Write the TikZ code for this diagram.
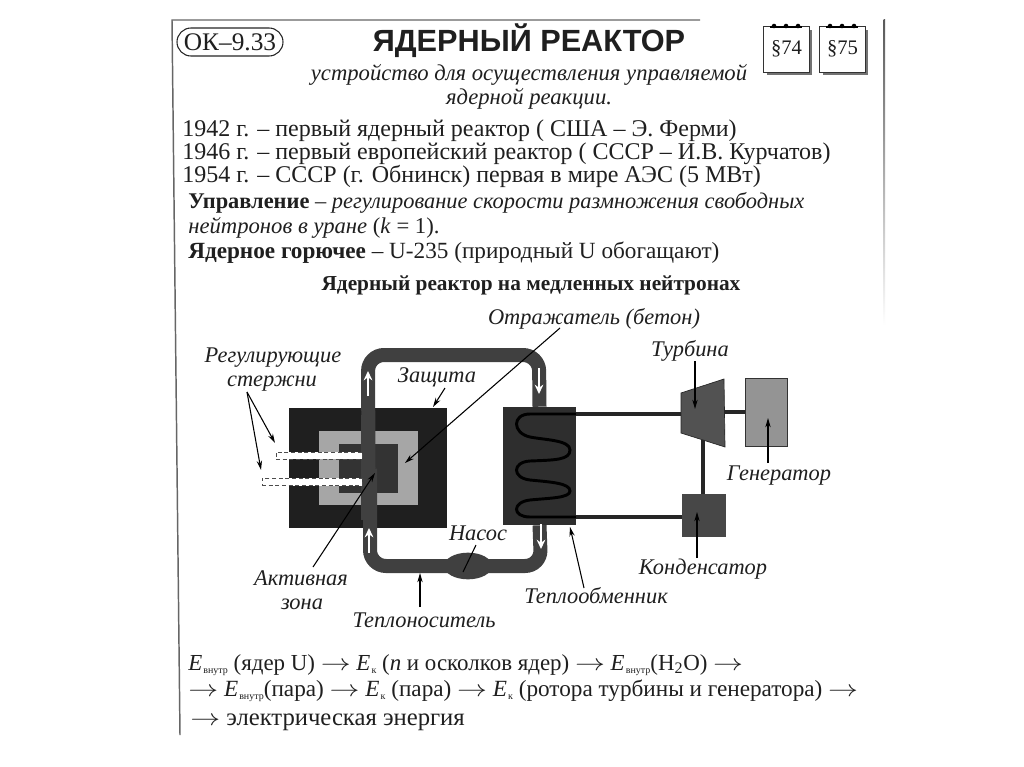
\documentclass[tikz,border=0pt]{standalone}
\usepackage{fontspec}
\setmainfont{Liberation Serif}
\newfontfamily\headfont{Liberation Sans}
\usetikzlibrary{arrows.meta,shapes.geometric}
\newcommand{\sz}[1]{\fontsize{#1}{#1}\selectfont}
\newcommand{\Evn}{\textit{E}\kern0.8pt\raisebox{-0.35ex}{\sz{7.5}внутр}}
\newcommand{\Ek}{\textit{E}\kern0.8pt\raisebox{-0.35ex}{\sz{7.5}к}}
\newcommand{\ar}{\scalebox{1.3}[1]{$\rightarrow$}}
\definecolor{ink}{gray}{0.12}
\tikzset{
  txt/.style={anchor=base west,inner sep=0pt,text=ink,font=\sz{18}},
  ctr/.style={anchor=base,inner sep=0pt,text=ink},
  lab/.style={ctr,font=\sz{16.8}\itshape},
  block/.style={rectangle,inner sep=0pt,draw=none},
  pipe/.style={line width=10.5pt,draw=black!75,rounded corners=12pt},
  lead/.style={draw=black,line width=0.8pt},
  leadarrow/.style={lead,-{Stealth[length=7pt,width=4pt]}},
  flow/.style={draw=white,line width=1.6pt,-{Stealth[length=7pt,width=6.5pt]}},
  link/.style={draw=black!85,line width=3.2pt},
  rod/.style={rectangle,inner sep=0pt,fill=white,draw=black!70,densely dashed,line width=0.7pt},
  leaf/.style={rectangle,inner sep=0pt,minimum width=34pt,minimum height=34pt,draw=black!80,line width=0.7pt,fill=white},
  ring/.style={circle,fill=black,inner sep=0pt,minimum size=3.4pt}
}
\begin{document}
\begin{tikzpicture}[x=0.75pt,y=-0.75pt]
\useasboundingbox (0,0) rectangle (1024,767);
\fill[white] (0,0) rectangle (1024,767);
% sheet frame
\draw[black!60,line width=1.1pt] (700,20) -- (172,20) -- (180,735);
\shade[top color=black!65,bottom color=white] (883.5,20) rectangle (885,325);
% header
\node[rectangle,rounded corners=10.5pt,draw=black!85,line width=0.8pt,minimum width=79.5pt,minimum height=21pt,inner sep=0pt,text=ink,font=\sz{19}] (badge) at (230,42) {ОК–9.33};
\node[ctr,font=\sz{23}\headfont\bfseries] (title) at (529,52) {ЯДЕРНЫЙ РЕАКТОР};
\node[ctr,font=\sz{17}\itshape] (sub1) at (529,80) {устройство для осуществления управляемой};
\node[ctr,font=\sz{17}\itshape] (sub2) at (529,104) {ядерной реакции.};
\foreach \nx/\tx in {764/74,820/75}{
  \fill[black!55] (\nx+3,30) rectangle (\nx+48,75);
  \fill[white] (\nx+2,29) rectangle (\nx+46,73);
  \node[leaf] (page\tx) at (\nx+22.5,49.5) {};
  \node[ctr,font=\sz{15.5}] (sec\tx) at (\nx+22.5,55) {§\tx};
  \draw[black,line width=0.9pt] (\nx+6,27) -- (\nx+38,27);
  \node[ring] at (\nx+10,26) {};
  \node[ring] at (\nx+22,26) {};
  \node[ring] at (\nx+34,26) {};
}
% history
\node[txt] (l1) at (182,137) {1942 г. – первый ядерный реактор ( США – Э. Ферми)};
\node[txt] (l2) at (182,159) {1946 г. – первый европейский реактор ( СССР – И.В. Курчатов)};
\node[txt] (l3) at (182,182) {1954 г. – СССР (г. Обнинск) первая в мире АЭС (5 МВт)};
\node[txt,font=\sz{16.8}] (l4) at (188,208) {\textbf{Управление} – \textit{регулирование скорости размножения свободных}};
\node[txt,font=\sz{17}] (l5) at (188,233) {\textit{нейтронов в уране} (\textit{k} = 1).};
\node[txt,font=\sz{17.4}] (l6) at (188,258) {\textbf{Ядерное горючее} – U-235 (природный U обогащают)};
\node[ctr,font=\sz{16}\bfseries] (l7) at (531,290) {Ядерный реактор на медленных нейтронах};
% reactor
\node[block,fill=black!88,minimum width=118.5pt,minimum height=90pt] (shield) at (368,468) {};
\node[block,fill=black!35,minimum width=74.5pt,minimum height=55.5pt] (refl) at (368.5,468) {};
\node[block,fill=black!80,minimum width=44pt,minimum height=37pt] (core) at (368.5,468.5) {};
% heat exchanger and primary loop
\node[block,fill=black!82,minimum width=55pt,minimum height=88.5pt] (hx) at (539.5,466) {};
\draw[pipe] (core.center) -- (368,355) -- (539,355) -- (hx.north);
\draw[pipe] (core.center) ++(1.5,0) -- (370,566) -- (541,566) -- (hx.south);
\draw[pipe,rounded corners=0pt] (368,415) -- (368,520);
\node[ellipse,fill=black!75,inner sep=0pt,minimum width=36pt,minimum height=20pt] (pump) at (468,566) {};
\node[block,fill=black!82,minimum width=55pt,minimum height=88.5pt] at (539.5,466) {};
% coil
\draw[black,line width=2.2pt,rounded corners=0pt] (576,414) -- (530,414)
  .. controls (512,414) and (512,433) .. (530,437)
  .. controls (545,440) and (570,440) .. (570,450)
  .. controls (570,460) and (555,460) .. (530,461)
  .. controls (512,462) and (512,478) .. (530,480)
  .. controls (550,482) and (570,483) .. (570,491)
  .. controls (570,498) and (550,498) .. (530,500)
  .. controls (512,502) and (512,517) .. (530,517) -- (576,517);
% flow arrows
\coordinate (fa1) at (368,396); \coordinate (fa2) at (368,371);
\coordinate (fb1) at (369,553); \coordinate (fb2) at (369,528);
\coordinate (fc1) at (539,368); \coordinate (fc2) at (539,394);
\coordinate (fd1) at (541,524); \coordinate (fd2) at (541,549);
\draw[flow] (fa1) -- (fa2);
\draw[flow] (fb1) -- (fb2);
\draw[flow] (fc1) -- (fc2);
\draw[flow] (fd1) -- (fd2);
% rods
\node[rod,minimum width=64.5pt,minimum height=5.2pt] (rod1) at (319,455.5) {};
\node[rod,minimum width=75pt,minimum height=5.6pt] (rod2) at (312,482) {};
% secondary circuit
\coordinate (t1) at (681,393); \coordinate (t2) at (724,379);
\coordinate (t3) at (725,447); \coordinate (t4) at (681,433);
\node[block,fill=black!42,draw=black!80,line width=0.7pt,minimum width=32pt,minimum height=51.5pt] (gen) at (766.5,412.5) {};
\node[block,fill=black!72,minimum width=33pt,minimum height=32pt] (cond) at (704,515.5) {};
\draw[link] (576,414) -- (t1|-0,414);
\draw[link] (576,517) -- (cond.west|-0,517);
\draw[link] (724.5,412) -- (gen.west|-0,412);
\draw[link] (703,440) -- (703,494);
\draw[fill=black!68,draw=black!85,line width=0.5pt] (t1) -- (t2) -- (t3) -- (t4) -- cycle;
% labels
\node[lab] (rs1) at (273,362) {Регулирующие};
\node[lab] (rs2) at (272,386) {стержни};
\node[lab] (zash) at (437,382) {Защита};
\node[lab] (otr) at (594,324) {Отражатель (бетон)};
\node[lab] (turb) at (690,356) {Турбина};
\node[lab] (genl) at (779,480) {Генератор};
\node[lab] (nas) at (478,540) {Насос};
\node[lab] (akt1) at (301,585) {Активная};
\node[lab] (akt2) at (302,609) {зона};
\node[lab] (tn) at (424,627) {Теплоноситель};
\node[lab] (to) at (596,603) {Теплообменник};
\node[lab] (kond) at (703,574) {Конденсатор};
% leaders
\coordinate (c1) at (247,392);
\draw[leadarrow] (c1) -- (275,443);
\draw[leadarrow] (c1) -- (261,470);
\coordinate (z1) at (445,388); \coordinate (z2) at (433,407);
\draw[leadarrow] (z1) -- (z2);
\coordinate (o1) at (560,328); \coordinate (o2) at (405,463);
\draw[leadarrow] (o1) -- (o2);
\coordinate (a1) at (313,567); \coordinate (a2) at (375,473);
\draw[leadarrow] (a1) -- (a2);
\coordinate (n1) at (476,545); \coordinate (n2) at (463,572);
\draw[lead] (n1) -- (n2);
\coordinate (tn1) at (420,607); \coordinate (tn2) at (420,573);
\draw[leadarrow] (tn1) -- (tn2);
\coordinate (to1) at (584,588); \coordinate (to2) at (570,527);
\draw[leadarrow] (to1) -- (to2);
\coordinate (tb1) at (695,361); \coordinate (tb2) at (695,409);
\draw[leadarrow] (tb1) -- (tb2);
\coordinate (gn1) at (768,463); \coordinate (gn2) at (768,418);
\draw[leadarrow] (gn1) -- (gn2);
\coordinate (kd1) at (697,558); \coordinate (kd2) at (697,512);
\draw[leadarrow] (kd1) -- (kd2);
% energy chain
\node[txt,font=\sz{17.2}] (e1) at (188,670) {\Evn{} (ядер U) \ar{} \Ek{} (\textit{n} и осколков ядер) \ar{} \Evn{}(H\textsubscript{2}O) \ar};
\node[txt,font=\sz{17.4}] (e2) at (188,696) {\ar{} \Evn{}(пара) \ar{} \Ek{} (пара) \ar{} \Ek{} (ротора турбины и генератора) \ar};
\node[txt,font=\sz{18.5}] (e3) at (190,725) {\ar{} электрическая энергия};
\end{tikzpicture}
\end{document}
